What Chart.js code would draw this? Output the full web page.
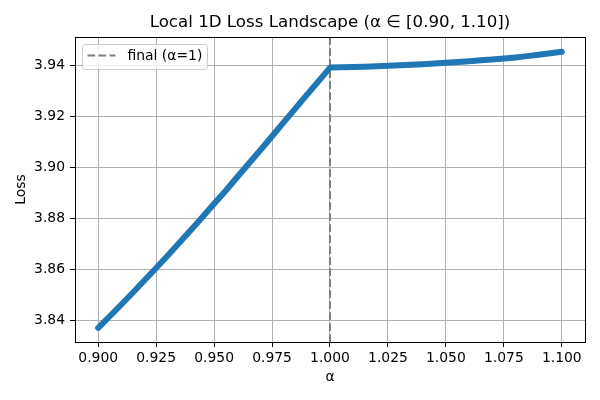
<!DOCTYPE html>
<html>
<head>
<meta charset="utf-8">
<script src="https://cdn.jsdelivr.net/npm/chart.js@4.4.1/dist/chart.umd.min.js"></script>
<style>
  html, body { margin: 0; padding: 0; background: #ffffff; }
  #wrap { width: 600px; height: 400px; }
</style>
</head>
<body>
<div id="wrap"><canvas id="c" width="600" height="400"></canvas></div>
<script>
// ---- data ----
const ALPHA = [
  0.900, 0.905, 0.910, 0.915, 0.920, 0.925, 0.930, 0.935, 0.940, 0.945,
  0.950, 0.955, 0.960, 0.965, 0.970, 0.975, 0.980, 0.985, 0.990, 0.995,
  1.000, 1.005, 1.010, 1.015, 1.020, 1.025, 1.030, 1.035, 1.040, 1.045,
  1.050, 1.055, 1.060, 1.065, 1.070, 1.075, 1.080, 1.085, 1.090, 1.095,
  1.100
];
const LOSS = [
  3.8369, 3.8415, 3.8461, 3.8508, 3.8556, 3.8604, 3.8653, 3.8703, 3.8753, 3.8804,
  3.8856, 3.8907, 3.8961, 3.9014, 3.9067, 3.9121, 3.9175, 3.9229, 3.9283, 3.9336,
  3.9390, 3.9391, 3.9392, 3.9393, 3.9395, 3.9397, 3.9399, 3.9401, 3.9403, 3.9406,
  3.9409, 3.9412, 3.9415, 3.9419, 3.9422, 3.9426, 3.9430, 3.9435, 3.9440, 3.9446,
  3.9452
];
const FINAL_ALPHA = 1.0;
const X_TICKS = [0.900, 0.925, 0.950, 0.975, 1.000, 1.025, 1.050, 1.075, 1.100];
const Y_TICKS = [3.84, 3.86, 3.88, 3.90, 3.92, 3.94];
const X_LIMITS = [0.89, 1.11];
const Y_LIMITS = [3.8314, 3.951];
const TITLE = 'Local 1D Loss Landscape (α ∈ [0.90, 1.10])';
const X_LABEL = 'α';
const Y_LABEL = 'Loss';
const LEGEND_LABEL = 'final (α=1)';

const FONT = "'DejaVu Sans', sans-serif";
const FS = 13.9;
const lossPoints = ALPHA.map((a, i) => ({ x: a, y: LOSS[i] }));
const vlinePoints = [{ x: FINAL_ALPHA, y: Y_LIMITS[0] }, { x: FINAL_ALPHA, y: Y_LIMITS[1] }];

const framePlugin = {
  id: 'frame',
  afterDraw(chart) {
    const ctx = chart.ctx, a = chart.chartArea;
    ctx.save();
    ctx.strokeStyle = '#000000';
    ctx.lineWidth = 1;
    ctx.strokeRect(Math.round(a.left) + 0.5, Math.round(a.top) + 0.5,
                   Math.round(a.right - a.left), Math.round(a.bottom - a.top));
    // legend (matplotlib-like, upper left)
    const ds = chart.data.datasets[1];
    const lx = a.left + 7.5, ly = a.top + 7.5, lw = 125, lh = 25, r = 3;
    ctx.beginPath();
    ctx.moveTo(lx + r, ly);
    ctx.lineTo(lx + lw - r, ly); ctx.quadraticCurveTo(lx + lw, ly, lx + lw, ly + r);
    ctx.lineTo(lx + lw, ly + lh - r); ctx.quadraticCurveTo(lx + lw, ly + lh, lx + lw - r, ly + lh);
    ctx.lineTo(lx + r, ly + lh); ctx.quadraticCurveTo(lx, ly + lh, lx, ly + lh - r);
    ctx.lineTo(lx, ly + r); ctx.quadraticCurveTo(lx, ly, lx + r, ly);
    ctx.closePath();
    ctx.fillStyle = 'rgba(255,255,255,0.8)';
    ctx.fill();
    ctx.strokeStyle = '#cccccc';
    ctx.lineWidth = 1;
    ctx.stroke();
    ctx.beginPath();
    ctx.setLineDash(ds.borderDash);
    ctx.strokeStyle = ds.borderColor;
    ctx.lineWidth = ds.borderWidth;
    ctx.moveTo(lx + 5, ly + 11);
    ctx.lineTo(lx + 33, ly + 11);
    ctx.stroke();
    ctx.setLineDash([]);
    ctx.fillStyle = '#000000';
    ctx.font = FS + 'px ' + FONT;
    ctx.textBaseline = 'middle';
    ctx.textAlign = 'left';
    ctx.fillText(ds.label, lx + 45, ly + 12);
    ctx.restore();
  }
};

new Chart(document.getElementById('c'), {
  type: 'line',
  data: {
    datasets: [
      {
        label: 'loss',
        data: lossPoints,
        borderColor: '#1f77b4',
        backgroundColor: '#1f77b4',
        borderWidth: 6,
        borderCapStyle: 'round',
        borderJoinStyle: 'round',
        pointRadius: 0,
        tension: 0,
        fill: false
      },
      {
        label: LEGEND_LABEL,
        data: vlinePoints,
        borderColor: '#7f7f7f',
        borderWidth: 2,
        borderDash: [7.7, 3.3],
        pointRadius: 0,
        fill: false
      }
    ]
  },
  options: {
    responsive: false,
    animation: false,
    devicePixelRatio: 1,
    layout: { padding: { left: 0, right: 15, top: 0, bottom: 0 } },
    plugins: {
      legend: { display: false },
      tooltip: { enabled: false },
      title: {
        display: true,
        fullSize: false,
        text: TITLE,
        color: '#000000',
        font: { family: FONT, size: 16.67, weight: 'normal', lineHeight: 1.2 },
        padding: { top: 12.5, bottom: 4.5 }
      }
    },
    scales: {
      x: {
        type: 'linear',
        min: X_LIMITS[0],
        max: X_LIMITS[1],
        afterBuildTicks: (s) => { s.ticks = X_TICKS.map(v => ({ value: v })); },
        afterFit: (s) => { s.height = 58; },
        ticks: {
          color: '#000000',
          font: { family: FONT, size: FS },
          padding: 3,
          maxRotation: 0,
          autoSkip: false,
          callback: (v) => Number(v).toFixed(3)
        },
        grid: { color: '#b0b0b0', lineWidth: 1, drawTicks: true, tickLength: 5, tickColor: '#000000' },
        border: { display: true, color: '#000000', width: 1 },
        title: {
          display: true,
          text: X_LABEL,
          color: '#000000',
          font: { family: FONT, size: FS },
          padding: { top: 2, bottom: 14 }
        }
      },
      y: {
        type: 'linear',
        min: Y_LIMITS[0],
        max: Y_LIMITS[1],
        afterBuildTicks: (s) => { s.ticks = Y_TICKS.map(v => ({ value: v })); },
        afterFit: (s) => { s.width = 75; },
        ticks: {
          color: '#000000',
          font: { family: FONT, size: FS },
          padding: 5,
          autoSkip: false,
          callback: (v) => Number(v).toFixed(2)
        },
        grid: { color: '#b0b0b0', lineWidth: 1, drawTicks: true, tickLength: 5, tickColor: '#000000' },
        border: { display: true, color: '#000000', width: 1 },
        title: {
          display: true,
          text: Y_LABEL,
          color: '#000000',
          font: { family: FONT, size: FS },
          padding: { top: 13, bottom: 2 }
        }
      }
    }
  },
  plugins: [framePlugin]
});
</script>
</body>
</html>
